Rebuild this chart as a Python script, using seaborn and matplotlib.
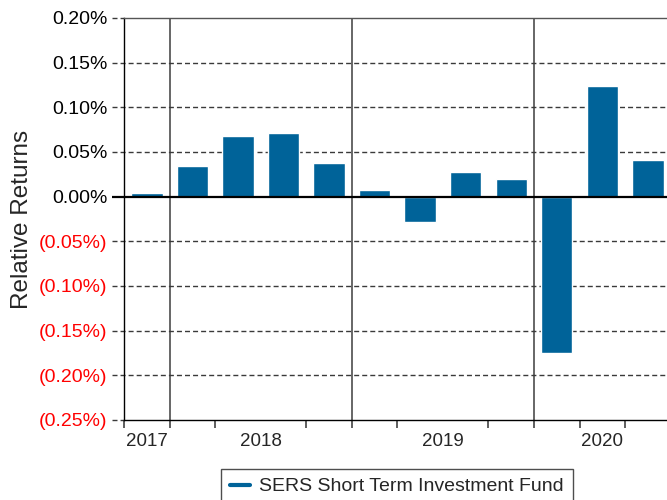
import matplotlib
matplotlib.use("Agg")
import matplotlib.pyplot as plt
from matplotlib.lines import Line2D
from matplotlib.ticker import FixedLocator, FuncFormatter
import numpy as np
import pandas as pd
import seaborn as sns

# Quarterly relative returns (percent) of the fund vs. its benchmark
quarters = ["2017 Q4",
            "2018 Q1", "2018 Q2", "2018 Q3", "2018 Q4",
            "2019 Q1", "2019 Q2", "2019 Q3", "2019 Q4",
            "2020 Q1", "2020 Q2", "2020 Q3"]
relative_returns = [0.004,
                    0.034, 0.068, 0.071, 0.038,
                    0.007, -0.028, 0.028, 0.020,
                    -0.175, 0.124, 0.041]
years = ["2017", "2018", "2019", "2020"]
quarters_per_year = [1, 4, 4, 3]
y_ticks = [0.20, 0.15, 0.10, 0.05, 0.00, -0.05, -0.10, -0.15, -0.20, -0.25]
series_name = "SERS Short Term Investment Fund"
y_label = "Relative Returns"

BAR_BLUE = "#006399"
GRID_GREY = "#3a3a3a"

sns.set_style("white")
plt.rcParams["font.family"] = ["Liberation Sans", "DejaVu Sans"]

df = pd.DataFrame({"quarter": quarters, "ret": relative_returns})

fig = plt.figure(figsize=(6.67, 5.0), dpi=100)
ax = fig.add_axes([0.186, 0.16, 0.814, 0.804])

sns.barplot(data=df, x="quarter", y="ret", color=BAR_BLUE, saturation=1,
            width=0.69, ax=ax, zorder=2)

n = len(quarters)
ax.set_xlim(-0.5, n - 0.58)
ax.set_ylim(min(y_ticks), max(y_ticks))

# Year grouping: boundaries between years and centre of each year's quarters
starts = np.concatenate([[0], np.cumsum(quarters_per_year)[:-1]])
centers = starts + (np.array(quarters_per_year) - 1) / 2.0
boundaries = starts[1:] - 0.5

for b in boundaries:
    ax.axvline(b, color="#5a5a5a", lw=1.3, zorder=1)

# Horizontal reference lines, continued left of the axis as tick stubs
ytr = ax.get_yaxis_transform()
dash = (0, (3.6, 2.2))
for v in y_ticks:
    if v == 0:
        ax.plot([-0.022, 1], [v, v], transform=ytr, color="black", lw=1.6,
                clip_on=False, zorder=3, solid_capstyle="butt")
    elif v in (max(y_ticks), min(y_ticks)):
        ax.plot([-0.022, 0], [v, v], transform=ytr, color=GRID_GREY, lw=1,
                ls=dash, clip_on=False, zorder=1)
    else:
        ax.plot([-0.022, 1], [v, v], transform=ytr, color=GRID_GREY, lw=1,
                ls=dash, clip_on=False, zorder=1)

ax.yaxis.set_major_locator(FixedLocator(y_ticks))


def pct_fmt(v, pos):
    if round(v, 4) < 0:
        return f"({abs(v):.2f}%)"
    return f"{abs(v):.2f}%"


ax.yaxis.set_major_formatter(FuncFormatter(pct_fmt))
ax.tick_params(axis="y", length=0, pad=12, labelsize=14)
for lab, v in zip(ax.get_yticklabels(), ax.get_yticks()):
    lab.set_color("#ff0000" if round(v, 4) < 0 else "black")

# Year labels centred under their quarters; tick marks at quarter boundaries
ax.set_xticks(centers)
ax.set_xticklabels(years)
ax.set_xticks(np.arange(n) - 0.5, minor=True)
ax.tick_params(axis="x", which="major", length=0, pad=9, labelsize=13.5)
ax.tick_params(axis="x", which="minor", length=6, width=1.1, color="#333333",
               direction="out", bottom=True)

ax.set_xlabel("")
ax.set_ylabel(y_label, fontsize=17.5, labelpad=4)

for side in ("left", "bottom"):
    ax.spines[side].set_color("black")
    ax.spines[side].set_linewidth(1.0)
ax.spines["top"].set_color("#555555")
ax.spines["top"].set_linewidth(1.0)
ax.spines["right"].set_visible(False)
ax.grid(False)

handle = Line2D([], [], color=BAR_BLUE, lw=3)
leg = ax.legend(handles=[handle], labels=[series_name], loc="upper center",
                bbox_to_anchor=(0.5953, 0.062), bbox_transform=fig.transFigure,
                fontsize=14, frameon=True, fancybox=False, handlelength=1.0,
                handletextpad=0.5, borderpad=0.45, borderaxespad=0)
leg.get_frame().set_edgecolor("#222222")
leg.get_frame().set_linewidth(1.0)

fig.savefig("out.png", dpi=100)
